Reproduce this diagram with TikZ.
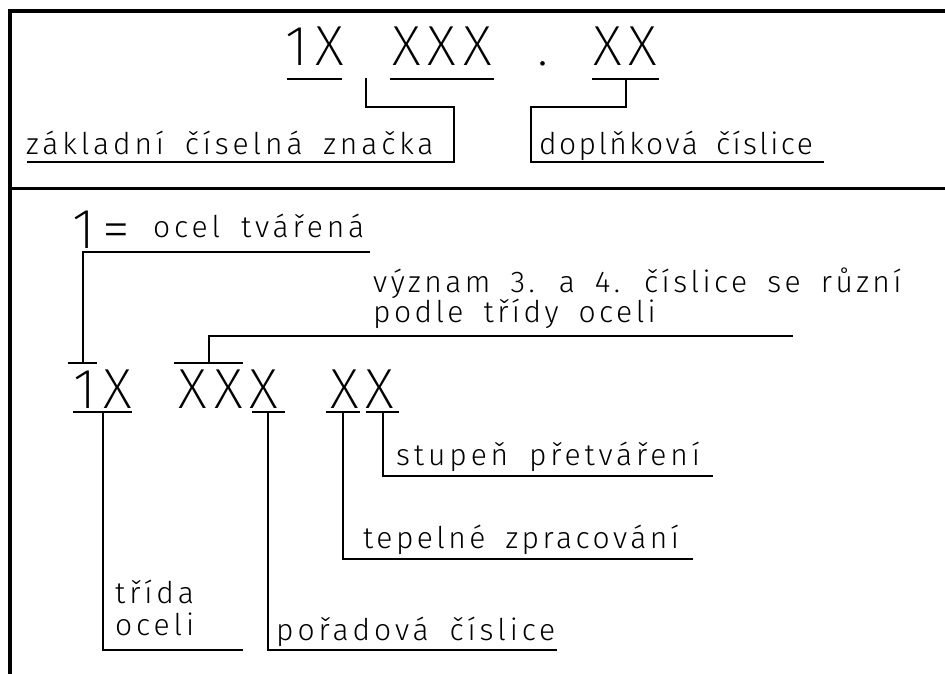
\documentclass[tikz,border=0pt]{standalone}
\usepackage{fontspec}
\IfFontExistsTF{Fira Sans Light}
  {\newfontfamily\cadfont{Fira Sans Light}[LetterSpace=13,WordSpace=1.7]
   \newfontfamily\cadfontm{Fira Sans Light}[LetterSpace=11.5,WordSpace=1.7]
   \newfontfamily\cadfontn{Fira Sans Light}[LetterSpace=8,WordSpace=1.7]}
  {\newfontfamily\cadfont{Liberation Mono}
   \newfontfamily\cadfontm{Liberation Mono}
   \newfontfamily\cadfontn{Liberation Mono}}
\IfFontExistsTF{Fira Sans ExtraLight}
  {\newfontfamily\cadbig{Fira Sans ExtraLight}}
  {\newfontfamily\cadbig{Liberation Mono}}
\newcommand\Xk{\kern7pt}
\tikzset{
  ln/.style={line width=1.3pt, line cap=rect},
  frameline/.style={line width=3.8pt},
  big/.style={inner sep=0pt, anchor=base, font=\cadbig\fontsize{56.5}{60}\selectfont},
  lab/.style={inner sep=0pt, anchor=base west, font=\cadfont\fontsize{30}{32}\selectfont},
  labm/.style={lab, font=\cadfontm\fontsize{30}{32}\selectfont},
  labn/.style={lab, font=\cadfontn\fontsize{30}{32}\selectfont},
}
\begin{document}
\begin{tikzpicture}[x=1pt,y=-1pt]
\useasboundingbox (0,0) rectangle (945,673);
% frame
\draw[frameline] (947,11) -- (10,11) -- (10,675);
\draw[frameline] (10,188.5) -- (947,188.5);

% ---------- top part ----------
\node[big] (t1) at (314.5,65) {1\Xk X};
\node[big] (t2) at (442,65) {X\Xk X\Xk X};
\node[big] (t3) at (543,65) {.};
\node[big] (t4) at (625.5,65) {X\Xk X};
\draw[ln] (288,79) -- (341,79);
\draw[ln] (391,79) -- (493,79);
\draw[ln] (593,79) -- (658,79);

\node[lab] (zak) at (26,154) {základní číselná značka};
\node[labn] (dop) at (539,154) {doplňková číslice};
\draw[ln] (366,79) -- (366,107) -- (454,107) -- (454,162) -- (28,162);
\draw[ln] (626,79) -- (626,107) -- (531,107) -- (531,162) -- (823,162);

% ---------- bottom part ----------
\node[big] (b0) at (101.5,248) {1\Xk=};
\node[lab] (ocel) at (153,237) {ocel tvářená};
\draw[ln] (369,252) -- (83,252) -- (83,363);
\draw[ln] (69,363) -- (96,363);

\node[big] (b1) at (102.5,408) {1\Xk X};
\node[big] (b2) at (228.5,408) {X\Xk X\Xk X};
\node[big] (b3) at (362.5,408) {X\Xk X};

\draw[ln] (175,363) -- (242,363);
\draw[ln] (209,363) -- (209,336) -- (792,336);
\node[labm] (vyz1) at (373,292) {význam 3. a 4. číslice se různí};
\node[labm] (vyz2) at (373,322) {podle třídy oceli};

\draw[ln] (74,412) -- (131,412);
\draw[ln] (253,412) -- (284,412);
\draw[ln] (327,412) -- (359,412);
\draw[ln] (367,412) -- (398,412);

\draw[ln] (103,412) -- (103,650) -- (242,650);
\draw[ln] (268,412) -- (268,650) -- (556,650);
\draw[ln] (343,412) -- (343,559) -- (692,559);
\draw[ln] (383,412) -- (383,476) -- (712,476);

\node[lab] (tr1) at (115,603) {třída};
\node[lab] (tr2) at (115,635) {oceli};
\node[lab] (por) at (276,640) {pořadová číslice};
\node[labm] (tep) at (363,548) {tepelné zpracování};
\node[lab] (stu) at (396,465) {stupeň přetváření};
\end{tikzpicture}
\end{document}
